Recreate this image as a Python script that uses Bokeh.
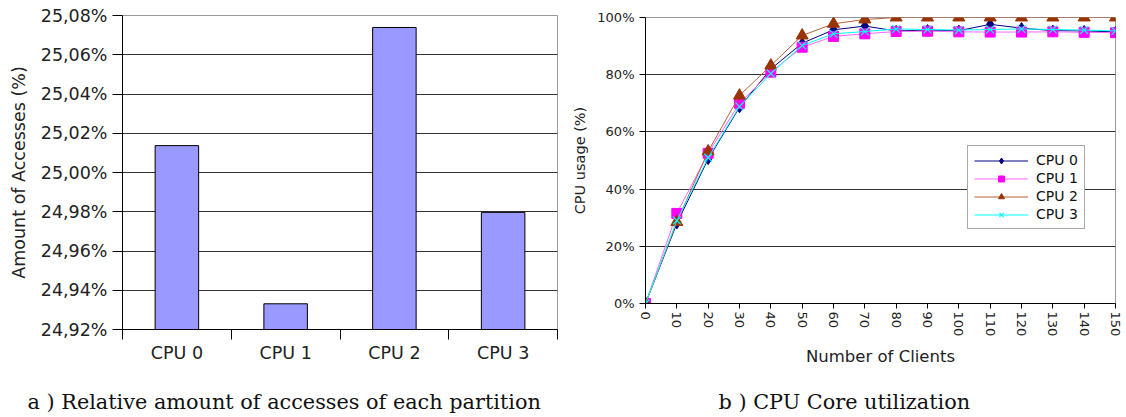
import math
from bokeh.plotting import figure
from bokeh.layouts import row, column
from bokeh.models import FixedTicker, Legend, LegendItem, Range1d, Label
from bokeh.embed import file_html
from bokeh.resources import INLINE

# ---------------- data ----------------
categories = ["CPU 0", "CPU 1", "CPU 2", "CPU 3"]
access_pct = [25.0137, 24.9331, 25.0739, 24.9797]
access_ticks = [24.92, 24.94, 24.96, 24.98, 25.00, 25.02, 25.04, 25.06, 25.08]
access_tick_labels = ["24,92%", "24,94%", "24,96%", "24,98%", "25,00%",
                      "25,02%", "25,04%", "25,06%", "25,08%"]

clients = [0, 10, 20, 30, 40, 50, 60, 70, 80, 90, 100, 110, 120, 130, 140, 150]
cpu0 = [0, 28.0, 50.5, 68.6, 82.0, 91.0, 95.7, 97.0, 95.3, 95.6, 95.4, 97.6, 96.3, 95.4, 95.3, 95.0]
cpu1 = [0, 31.5, 52.5, 70.0, 80.9, 89.6, 93.4, 94.3, 95.1, 95.2, 95.0, 94.9, 94.9, 95.0, 94.8, 94.7]
cpu2 = [0, 28.5, 53.2, 72.7, 83.2, 93.7, 97.8, 99.3, 100, 100, 100, 100, 100, 100, 100, 100]
cpu3 = [0, 29.0, 51.0, 68.9, 80.4, 90.2, 94.3, 95.1, 96.0, 95.8, 95.6, 95.8, 96.0, 95.8, 95.6, 95.3]
usage_ticks = [0, 20, 40, 60, 80, 100]
usage_tick_labels = ["0%", "20%", "40%", "60%", "80%", "100%"]
series_names = ["CPU 0", "CPU 1", "CPU 2", "CPU 3"]

caption_a = "a ) Relative amount of accesses of each partition"
caption_b = "b ) CPU Core utilization"

FONT = "DejaVu Sans"
SERIF = "DejaVu Serif"

# ---------------- left chart ----------------
p1 = figure(width=560, height=365, output_backend="svg", toolbar_location=None,
            x_range=Range1d(0, len(categories)), y_range=Range1d(access_ticks[0], access_ticks[-1]),
            min_border_left=122, min_border_right=3, min_border_top=15, min_border_bottom=36)
x_pos = [i + 0.5 for i in range(len(categories))]
p1.vbar(x=x_pos, top=access_pct, bottom=access_ticks[0], width=0.4,
        fill_color="#9999ff", line_color="black", line_width=1)

xt = FixedTicker(ticks=x_pos, minor_ticks=list(range(len(categories) + 1)))
p1.xaxis.ticker = xt
p1.xaxis.major_label_overrides = {x: c for x, c in zip(x_pos, categories)}
p1.xaxis.major_tick_out = 0
p1.xaxis.major_tick_in = 0
p1.xaxis.minor_tick_out = 10
p1.xaxis.minor_tick_in = 0
p1.xaxis.minor_tick_line_color = "black"
p1.xaxis.major_label_standoff = 3

yt = FixedTicker(ticks=access_ticks, minor_ticks=[])
p1.yaxis.ticker = yt
p1.ygrid.ticker = yt
p1.yaxis.major_label_overrides = {t: l for t, l in zip(access_ticks, access_tick_labels)}
p1.yaxis.major_tick_out = 10
p1.yaxis.major_tick_in = 0
p1.yaxis.minor_tick_out = 0
p1.yaxis.major_label_standoff = 5
p1.yaxis.axis_label = "Amount of Accesses (%)"
p1.yaxis.axis_label_standoff = 9

for ax in (p1.xaxis, p1.yaxis):
    ax.axis_line_color = "black"
    ax.major_tick_line_color = "black"
    ax.major_label_text_font = FONT
    ax.major_label_text_font_size = "17.5px"
    ax.major_label_text_color = "#222222"
    ax.axis_label_text_font = FONT
    ax.axis_label_text_font_size = "17.5px"
    ax.axis_label_text_font_style = "normal"
    ax.axis_label_text_color = "#222222"

p1.xgrid.visible = False
p1.ygrid.grid_line_color = "#333333"
p1.outline_line_color = "#999999"

# ---------------- right chart ----------------
p2 = figure(width=566, height=369, output_backend="svg", toolbar_location=None,
            x_range=Range1d(clients[0], clients[-1]), y_range=Range1d(usage_ticks[0], usage_ticks[-1]),
            min_border_left=85, min_border_right=11, min_border_top=17, min_border_bottom=64)

styles = [
    dict(line="#000080", marker="diamond", size=11, fill="#000080"),
    dict(line="#ff66ff", marker="square", size=10, fill="#ff00ff"),
    dict(line="#b5603a", marker="triangle", size=12, fill="#993300"),
    dict(line="#00ffff", marker="x", size=11, fill="#00ffff"),
]
series = [cpu0, cpu1, cpu2, cpu3]
items = []
for name, ys, st in zip(series_names, series, styles):
    ln = p2.line(clients, ys, line_color=st["line"], line_width=1)
    if st["marker"] == "x":
        sc = p2.scatter(clients, ys, marker="x", size=st["size"], line_color=st["fill"], line_width=1.2)
    else:
        sc = p2.scatter(clients, ys, marker=st["marker"], size=st["size"],
                        fill_color=st["fill"], line_color=st["fill"])
    items.append(LegendItem(label=name, renderers=[ln, sc]))

legend = Legend(items=items, location=(322, 74), border_line_color="#555555",
                background_fill_color="white", background_fill_alpha=1.0,
                label_text_font=FONT, label_text_font_size="14px", label_text_color="#111111",
                glyph_width=54, glyph_height=15, label_height=15, spacing=2,
                padding=6, margin=0, label_standoff=8)
p2.add_layout(legend)

xt2 = FixedTicker(ticks=clients, minor_ticks=[])
p2.xaxis.ticker = xt2
p2.xaxis.major_label_orientation = -math.pi / 2
p2.xaxis.major_tick_out = 5
p2.xaxis.major_tick_in = 0
p2.xaxis.major_label_standoff = 3
p2.xaxis.axis_label = "Number of Clients"
p2.xaxis.axis_label_standoff = 8

yt2 = FixedTicker(ticks=usage_ticks, minor_ticks=[])
p2.yaxis.ticker = yt2
p2.ygrid.ticker = yt2
p2.yaxis.major_label_overrides = {t: l for t, l in zip(usage_ticks, usage_tick_labels)}
p2.yaxis.major_tick_out = 6
p2.yaxis.major_tick_in = 0
p2.yaxis.major_label_standoff = 5
p2.yaxis.axis_label = "CPU usage (%)"
p2.yaxis.axis_label_standoff = 6

for ax in (p2.xaxis, p2.yaxis):
    ax.axis_line_color = "black"
    ax.major_tick_line_color = "black"
    ax.minor_tick_out = 0
    ax.major_label_text_font = FONT
    ax.major_label_text_font_size = "13px"
    ax.major_label_text_color = "#222222"
    ax.axis_label_text_font = FONT
    ax.axis_label_text_font_style = "normal"
    ax.axis_label_text_color = "#222222"
p2.xaxis.axis_label_text_font_size = "16.5px"
p2.yaxis.axis_label_text_font_size = "14.5px"

p2.xgrid.visible = False
p2.ygrid.grid_line_color = "#333333"
p2.outline_line_color = "#999999"


# ---------------- captions ----------------
def caption_fig(width, height, text, x, y):
    c = figure(width=width, height=height, output_backend="svg", toolbar_location=None,
               x_range=Range1d(0, 1), y_range=Range1d(0, 1),
               x_axis_type=None, y_axis_type=None, min_border=0)
    c.grid.visible = False
    c.outline_line_color = None
    c.add_layout(Label(x=x, y=y, x_units="screen", y_units="screen", text=text,
                       text_font=SERIF, text_font_size="20.8px", text_color="#111111",
                       text_baseline="alphabetic"))
    return c


c1 = caption_fig(560, 52, caption_a, 27, 16)
c2 = caption_fig(566, 48, caption_b, 158, 16)

left = column(column(p1), column(c1), spacing=0)
right = column(column(p2), column(c2), spacing=0)
layout = row(left, right, spacing=0)
open("out.html", "w").write(file_html(layout, INLINE))
